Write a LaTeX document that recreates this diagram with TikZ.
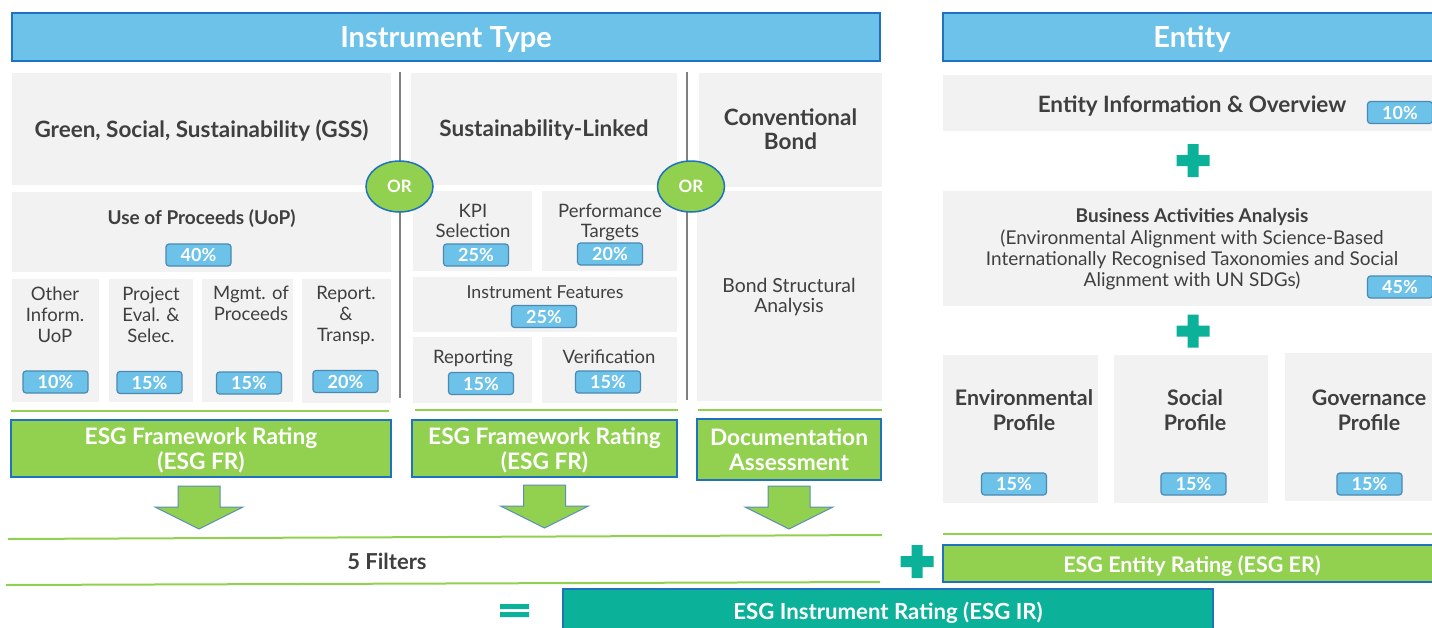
\documentclass[tikz,border=0pt]{standalone}
\usepackage{fontspec}
\setmainfont{Lato}
\usepackage{xcolor}
\usetikzlibrary{positioning, shapes.geometric}

\definecolor{barblue}{HTML}{6DC2EA}
\definecolor{edgeblue}{HTML}{1F72BE}
\definecolor{boxgray}{HTML}{F2F2F2}
\definecolor{inkgray}{HTML}{3F3F3F}
\definecolor{leafgreen}{HTML}{92D050}
\definecolor{tealgreen}{HTML}{0CB199}
\definecolor{tagedge}{HTML}{4A8AB2}
\definecolor{rulegray}{HTML}{808080}
\definecolor{arrowedge}{HTML}{5B8FB5}

\begin{document}
\begin{tikzpicture}[
x=1pt, y=-1pt,
every node/.style={inner sep=0pt, outer sep=0pt},
headbar/.style={draw=edgeblue, line width=1.5pt, fill=barblue, text=white, text depth=0pt, font=\fontsize{29}{32}\selectfont\bfseries},
graybox/.style={fill=boxgray},
boxhead/.style={text=inkgray, align=center, font=\fontsize{22.5}{24}\selectfont\bfseries},
boxtxt/.style={text=inkgray, align=center, font=\fontsize{18.5}{21}\selectfont},
pct/.style={draw=tagedge, line width=1.2pt, fill=barblue, rounded corners=3pt, minimum width=65pt, minimum height=22pt, text=white, font=\fontsize{18}{18}\selectfont\bfseries},
ornode/.style={ellipse, draw=edgeblue, line width=1.5pt, fill=leafgreen, minimum width=67pt, minimum height=51pt, text=white, font=\fontsize{17}{17}\selectfont\bfseries},
rating/.style={draw=edgeblue, line width=1.8pt, fill=leafgreen, text=white, align=center, font=\fontsize{22.7}{25}\selectfont\bfseries},
divider/.style={rulegray, line width=1.5pt},
greenrule/.style={leafgreen, line width=2pt},
fatarrow/.pic={\draw[arrowedge, line width=1pt, fill=leafgreen] (-21,0) -- (21,0) -- (21,21) -- (44,21) -- (0,43) -- (-44,21) -- (-21,21) -- cycle;},
plussign/.pic={\fill[tealgreen] (-16.5,-5.5) rectangle (16.5,5.5) (-5.5,-16.5) rectangle (5.5,16.5);},
equalsign/.pic={\fill[tealgreen] (-14.5,-6.5) rectangle (14.5,-1.5) (-14.5,1.5) rectangle (14.5,6.5);},
]
\useasboundingbox (0,0) rectangle (1432,627);

% header bars
\node[headbar, minimum width=868pt, minimum height=48pt] (insthead) at (446,37) {Instrument Type};
\node[headbar, minimum width=498pt, minimum height=48pt] (enthead) at (1192,37) {Entity};

% dividers
\coordinate (d1a) at (400,72);
\coordinate (d1b) at (400,398);
\coordinate (d2a) at (687,72);
\coordinate (d2b) at (687,400);
\draw[divider] (d1a) -- (d1b);
\draw[divider] (d2a) -- (d2b);

% GSS column
\node[graybox, minimum width=379pt, minimum height=112pt] (gss) at (201.5,128.5) {};
\node[boxhead] (gsst) at (201.5,131) {Green, Social, Sustainability (GSS)};
\node[graybox, minimum width=379pt, minimum height=80pt] (uop) at (201.5,232) {};
\node[boxhead, font=\fontsize{19}{22}\selectfont\bfseries] (uopt) at (201.5,219) {Use of Proceeds (UoP)};
\node[pct] (uopp) at (198.5,255) {40\%};
\node[graybox, minimum width=87pt, minimum height=123pt] (oth) at (55.5,340.5) {};
\node[graybox, minimum width=84pt, minimum height=123pt] (prj) at (151,340.5) {};
\node[graybox, minimum width=91pt, minimum height=123pt] (mgt) at (247.5,340.5) {};
\node[graybox, minimum width=89pt, minimum height=124pt] (rep) at (346.5,341) {};
\node[boxtxt, anchor=north] (otht) at (55,286.5) {Other\\Inform.\\UoP};
\node[boxtxt, anchor=north] (prjt) at (151,286.5) {Project\\Eval. \&\\Selec.};
\node[boxtxt, anchor=north] (mgtt) at (251,286.5) {Mgmt. of\\Proceeds};
\node[boxtxt, anchor=north] (rept) at (346,286.5) {Report.\\\&\\Transp.};
\node[pct] (othp) at (55.5,382) {10\%};
\node[pct] (prjp) at (149.5,382.5) {15\%};
\node[pct] (mgtp) at (249,383) {15\%};
\node[pct] (repp) at (345.5,381.5) {20\%};

% sustainability-linked column
\node[graybox, minimum width=266pt, minimum height=112pt] (sl) at (544,129) {};
\node[boxhead] (slt) at (544,130.5) {Sustainability-Linked};
\node[graybox, minimum width=119pt, minimum height=80pt] (kpi) at (472.5,231) {};
\node[graybox, minimum width=135pt, minimum height=80pt] (tgt) at (609.5,231) {};
\node[boxtxt, anchor=north, font=\fontsize{18.5}{20}\selectfont] (kpit) at (473,204) {KPI\\Selection};
\node[boxtxt, anchor=north, font=\fontsize{18.5}{20}\selectfont] (tgtt) at (610,204) {Performance\\Targets};
\node[pct] (kpip) at (476,255) {25\%};
\node[pct] (tgtp) at (610,254) {20\%};
\node[graybox, minimum width=264pt, minimum height=55pt] (feat) at (545,304.5) {};
\node[boxtxt, font=\fontsize{17.8}{20}\selectfont] (featt) at (545,292) {Instrument Features};
\node[pct] (featp) at (544,316.5) {25\%};
\node[graybox, minimum width=119pt, minimum height=66pt] (rpt) at (472.5,370) {};
\node[graybox, minimum width=135pt, minimum height=66pt] (ver) at (609.5,370) {};
\node[boxtxt] (rptt) at (473,358) {Reporting};
\node[boxtxt] (vert) at (609,357) {Verification};
\node[pct] (rptp) at (481,383.5) {15\%};
\node[pct] (verp) at (608,382) {15\%};

% conventional column
\node[graybox, boxhead, minimum width=183pt, minimum height=114pt] (conv) at (790.5,129.5) {Conventional\\Bond};
\node[graybox, minimum width=185pt, minimum height=210pt] (bsa) at (789.5,296) {};
\node[boxtxt, anchor=north, font=\fontsize{19.4}{20}\selectfont] (bsat) at (789,278.5) {Bond Structural\\Analysis};

% or
\node[ornode] (or1) at (399.5,186.5) {OR};
\node[ornode] (or2) at (691,186.5) {OR};

% ratings
\draw[greenrule] (11,410.5) -- (389,410.5);
\draw[greenrule] (415,410) -- (678,410);
\draw[greenrule] (698,410) -- (882,410);
\node[rating, minimum width=380pt, minimum height=57pt] (fr1) at (201,448.5) {};
\node[rating, minimum width=265pt, minimum height=57pt] (fr2) at (544.5,448.5) {};
\node[rating, minimum width=184pt, minimum height=61pt] (doc) at (789,449.5) {Documentation\\Assessment};
\node[rating, draw=none, fill=none] (fr1t) at (201,450.5) {ESG Framework Rating\\(ESG FR)};
\node[rating, draw=none, fill=none] (fr2t) at (544.5,450.5) {ESG Framework Rating\\(ESG FR)};
\pic at ([xshift=-2pt, yshift=-9pt]fr1.south) {fatarrow};
\pic at ([yshift=-8pt]fr2.south) {fatarrow};
\pic at ([yshift=-6pt]doc.south) {fatarrow};

% filters
\draw[greenrule] (8,539) -- (882,535);
\draw[greenrule] (6,585) -- (880,582);
\node[text=inkgray, font=\fontsize{22}{24}\selectfont\bfseries] (filt) at (387,561) {5 Filters};
\pic at (917,561.5) {plussign};
\pic at (514.5,610.5) {equalsign};
\node[draw=edgeblue, line width=1.8pt, fill=tealgreen, minimum width=650pt, minimum height=46pt] (ir) at (888,612) {};
\node[text=white, font=\fontsize{22.2}{24}\selectfont\bfseries] (irt) at (888,613) {ESG Instrument Rating (ESG IR)};

% entity column
\node[graybox, minimum width=498pt, minimum height=56pt] (info) at (1192,103) {};
\node[boxhead] (infot) at (1192,106) {Entity Information \& Overview};
\node[pct] (infop) at (1400,112.5) {10\%};
\pic at (1193,160.5) {plussign};
\node[graybox, minimum width=498pt, minimum height=115pt] (biz) at (1192,248.5) {};
\node[boxtxt, font=\fontsize{19}{21.3}\selectfont] (bizt) at (1192,249.5) {\textbf{Business Activities Analysis}\\(Environmental Alignment with Science-Based\\Internationally Recognised Taxonomies and Social\\Alignment with UN SDGs)};
\node[pct] (bizp) at (1400,287) {45\%};
\pic at (1193,331) {plussign};
\node[graybox, minimum width=155pt, minimum height=148pt] (env) at (1020.5,429) {};
\node[graybox, minimum width=154pt, minimum height=148pt] (soc) at (1191,429) {};
\node[graybox, minimum width=170pt, minimum height=148pt] (gov) at (1370,427) {};
\node[boxhead, font=\fontsize{21.4}{25}\selectfont\bfseries] (envt) at (1024,410.5) {Environmental\\Profile};
\node[boxhead, font=\fontsize{21.4}{25}\selectfont\bfseries] (soct) at (1195,410.5) {Social\\Profile};
\node[boxhead, font=\fontsize{21.4}{25}\selectfont\bfseries] (govt) at (1369,410.5) {Governance\\Profile};
\node[pct] (envp) at (1014,484) {15\%};
\node[pct] (socp) at (1193.5,484) {15\%};
\node[pct] (govp) at (1369.5,484) {15\%};
\draw[greenrule] (943,534) -- (1441,534);
\node[rating, minimum width=498pt, minimum height=37pt] (er) at (1192,563.5) {};
\node[rating, draw=none, fill=none, font=\fontsize{21.5}{24}\selectfont\bfseries] (ert) at (1192,565.5) {ESG Entity Rating (ESG ER)};
\end{tikzpicture}
\end{document}
